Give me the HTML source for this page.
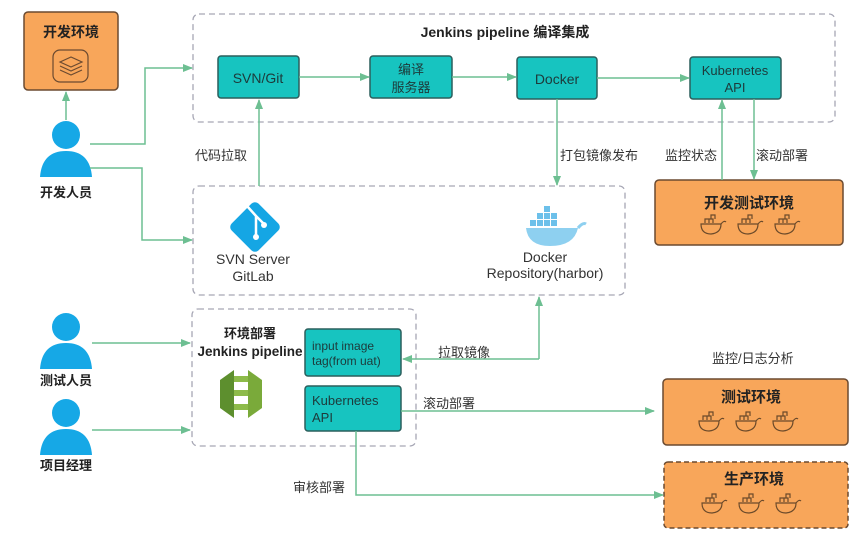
<!DOCTYPE html>
<html><head><meta charset="utf-8"><style>
html,body{margin:0;padding:0;background:#fff;}
svg{display:block;font-family:"Liberation Sans","Noto Sans CJK SC",sans-serif;}
</style></head><body>
<svg width="863" height="553" viewBox="0 0 863 553" xmlns="http://www.w3.org/2000/svg">
<defs>
<marker id="a" markerWidth="10" markerHeight="10" refX="9" refY="5" orient="auto" markerUnits="userSpaceOnUse"><path d="M0,1 L10,5 L0,9 z" fill="#6dbf92"/></marker>
<g id="wh"><path d="M-10,0 h20 q0,9 -10,10 q-10,0 -10,-10z M-6,-1 v-4 h4 v4 M-2,-1 v-4 h4 v4 M0,-5 v-4 h4 v4 M10,0 q3,-4 5,-2" fill="none" stroke="#6b4a2a" stroke-width="1.2"/></g>
<g id="person"><circle cx="0" cy="0" r="14" fill="#16a8e6"/><path d="M-26,42 q2,-26 26,-26 q24,0 26,26 z" fill="#16a8e6"/></g>
</defs>
<g fill="none" stroke="#a6a6b4" stroke-width="1.3" stroke-dasharray="6,4">
<rect x="193" y="14" width="642" height="108" rx="6"/>
<rect x="193" y="186" width="432" height="109" rx="6"/>
<rect x="192" y="309" width="224" height="137" rx="6"/>
</g>
<text x="505" y="37" font-size="14" font-weight="bold" text-anchor="middle" fill="#222">Jenkins pipeline 编译集成</text>
<!-- orange boxes -->
<rect x="24" y="12" width="94" height="78" rx="4" fill="#f8a65a" stroke="#6b4a30" stroke-width="1.5"/>
<text x="71" y="37" font-size="14" font-weight="bold" text-anchor="middle" fill="#222">开发环境</text>
<rect x="53" y="50" width="35" height="32" rx="7" fill="none" stroke="#6b4a30" stroke-width="1.2"/>
<path d="M60,62 l11,-5 l11,5 l-11,5z M60,66 l11,5 l11,-5 M60,70 l11,5 l11,-5" fill="none" stroke="#6b4a30" stroke-width="1.2"/>
<rect x="655" y="180" width="188" height="65" rx="4" fill="#f8a65a" stroke="#6b4a30" stroke-width="1.5"/>
<text x="749" y="208" font-size="15" font-weight="bold" text-anchor="middle" fill="#222">开发测试环境</text>
<use href="#wh" x="711" y="224"/><use href="#wh" x="748" y="224"/><use href="#wh" x="785" y="224"/>
<rect x="663" y="379" width="185" height="66" rx="4" fill="#f8a65a" stroke="#6b4a30" stroke-width="1.5"/>
<text x="751" y="402" font-size="15" font-weight="bold" text-anchor="middle" fill="#222">测试环境</text>
<use href="#wh" x="709" y="421"/><use href="#wh" x="746" y="421"/><use href="#wh" x="783" y="421"/>
<rect x="664" y="462" width="184" height="66" rx="4" fill="#f8a65a" stroke="#6b4a30" stroke-width="1.5" stroke-dasharray="5,3"/>
<text x="754" y="484" font-size="15" font-weight="bold" text-anchor="middle" fill="#222">生产环境</text>
<use href="#wh" x="712" y="503"/><use href="#wh" x="749" y="503"/><use href="#wh" x="786" y="503"/>
<!-- teal boxes -->
<g fill="#17c4c0" stroke="#2b5e5c" stroke-width="1.5">
<rect x="218" y="56" width="81" height="42" rx="3"/>
<rect x="370" y="56" width="82" height="42" rx="3"/>
<rect x="517" y="57" width="80" height="42" rx="3"/>
<rect x="690" y="57" width="91" height="42" rx="3"/>
<rect x="305" y="329" width="96" height="47" rx="3"/>
<rect x="305" y="386" width="96" height="45" rx="3"/>
</g>
<g font-size="14" fill="#1d3a3a" text-anchor="middle">
<text x="258" y="83">SVN/Git</text>
<text x="411" y="74" font-size="13">编译</text><text x="411" y="92" font-size="13">服务器</text>
<text x="557" y="84">Docker</text>
<text x="735" y="75" font-size="13">Kubernetes</text><text x="735" y="92" font-size="13">API</text>
</g>
<g font-size="12" fill="#1d3a3a">
<text x="312" y="350">input image</text><text x="312" y="365">tag(from uat)</text>
<text x="312" y="405" font-size="13">Kubernetes</text><text x="312" y="422" font-size="13">API</text>
</g>
<!-- persons -->
<use href="#person" x="66" y="135"/>
<use href="#person" x="66" y="327"/>
<use href="#person" x="66" y="413"/>
<g font-size="13" font-weight="bold" text-anchor="middle" fill="#222">
<text x="66" y="197">开发人员</text><text x="66" y="385">测试人员</text><text x="66" y="470">项目经理</text>
<text x="250" y="338">环境部署</text><text x="250" y="356" font-size="13.5">Jenkins pipeline</text>
</g>
<!-- git icon -->
<rect x="236" y="208" width="38" height="38" rx="5" transform="rotate(45 255 227)" fill="#15a6e4"/>
<path d="M247,206 l9,10 v20 M256,216 l8,8" stroke="#fff" stroke-width="2.5" fill="none"/>
<circle cx="256" cy="237" r="3" fill="#fff"/><circle cx="264" cy="225" r="3" fill="#fff"/>
<g font-size="14" fill="#333" text-anchor="middle">
<text x="253" y="264">SVN Server</text><text x="253" y="281">GitLab</text>
<text x="545" y="262">Docker</text><text x="545" y="278">Repository(harbor)</text>
</g>
<!-- docker whale -->
<path d="M526,228 h52 q-4,18 -28,18 q-22,0 -24,-18z" fill="#8ed0f0"/>
<g fill="#6cc0ea"><rect x="530" y="220" width="6" height="6"/><rect x="537" y="220" width="6" height="6"/><rect x="544" y="220" width="6" height="6"/><rect x="537" y="213" width="6" height="6"/><rect x="544" y="213" width="6" height="6"/><rect x="551" y="213" width="6" height="6"/><rect x="544" y="206" width="6" height="6"/><rect x="551" y="220" width="6" height="6"/></g>
<path d="M578,228 q5,-6 8,-4" stroke="#8ed0f0" stroke-width="3" fill="none"/>
<!-- aws icon -->
<g fill="#5d8f2e"><path d="M220,380 l14,-10 v48 l-14,-10z"/><path d="M262,380 l-14,-10 v48 l14,-10z" fill="#7aaa3a"/><rect x="234" y="376" width="14" height="6" fill="#8dbb4a"/><rect x="234" y="390" width="14" height="6" fill="#8dbb4a"/><rect x="234" y="404" width="14" height="6" fill="#8dbb4a"/></g>
<!-- arrows -->
<g fill="none" stroke="#6dbf92" stroke-width="1.5" marker-end="url(#a)">
<path d="M66,120 V92"/>
<path d="M90,144 H145 V68 H192"/>
<path d="M90,168 H142 V240 H192"/>
<path d="M299,77 H369"/>
<path d="M452,77 H516"/>
<path d="M597,78 H689"/>
<path d="M259,186 V100"/>
<path d="M557,99 V185"/>
<path d="M722,180 V100"/>
<path d="M754,99 V179"/>
<path d="M92,343 H190"/>
<path d="M92,430 H190"/>
<path d="M539,359 V297"/>
<path d="M539,359 H403"/>
<path d="M401,411 H654"/>
<path d="M356,431 V495 H663"/>
</g>
<g font-size="13" fill="#333">
<text x="195" y="160">代码拉取</text>
<text x="560" y="160">打包镜像发布</text>
<text x="665" y="160">监控状态</text>
<text x="756" y="160">滚动部署</text>
<text x="438" y="357">拉取镜像</text>
<text x="423" y="408">滚动部署</text>
<text x="293" y="492">审核部署</text>
<text x="712" y="363">监控/日志分析</text>
</g>
</svg>
</body></html>
